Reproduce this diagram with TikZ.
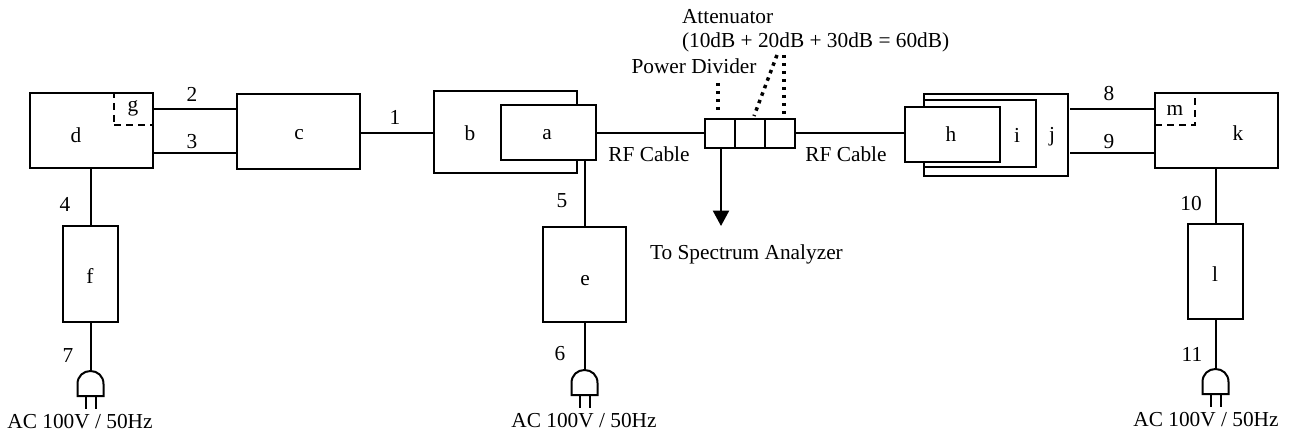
\documentclass[tikz,border=0pt]{standalone}
\usepackage{fontspec}
\setmainfont{Liberation Serif}
\usetikzlibrary{arrows.meta}

\tikzset{
  every node/.style={font=\fontsize{16}{18}\selectfont, inner sep=0pt, outer sep=0pt},
  wh/.style 2 args={minimum width=#1*0.75pt, minimum height=#2*0.75pt},
  unit/.style={draw, line width=1.5pt},
  dashbox/.style={draw, line width=1.5pt, dash pattern=on 5.5pt off 3.5pt},
  wire/.style={line width=1.5pt},
  pointer/.style={line width=2.6pt, dash pattern=on 2.6pt off 3.4pt},
  plug/.pic={
    \coordinate (-top) at (0,0);
    \draw[line width=1.5pt] (-13,25) -- (-13,13) .. controls (-13,5) and (-7,0) .. (0,0)
      .. controls (7,0) and (13,5) .. (13,13) -- (13,25) -- cycle;
    \draw[line width=1.5pt] (-5,25) -- (-5,38);
    \draw[line width=1.5pt] (5,25) -- (5,38);
  }
}

\begin{document}
\begin{tikzpicture}[x=0.75pt,y=-0.75pt]
    \useasboundingbox (0,0) rectangle (1294,434);

    % Left chain
    \node[unit, wh={123}{75}] (d) at (91.5,130.5) {};
    \node[dashbox, wh={39}{32}] (g) at (133.5,109) {};
    \node[unit, wh={123}{75}] (c) at (298.5,131.5) {};
    \node[unit, wh={55}{96}] (f) at (90.5,274) {};

    % Source with its holder
    \node[unit, wh={143}{82}] (b) at (505.5,132) {};
    \node[unit, fill=white, wh={95}{55}] (a) at (548.5,132.5) {};
    \node[unit, wh={83}{95}] (e) at (584.5,274.5) {};

    % Divider and attenuators
    \node[unit, wh={30}{29}] (pd) at (720,133.5) {};
    \node[unit, wh={30}{29}] (att1) at (750,133.5) {};
    \node[unit, wh={30}{29}] (att2) at (780,133.5) {};

    % Right chain
    \node[unit, wh={144}{82}] (j) at (996,135) {};
    \node[unit, wh={112}{67}] (i) at (980,133.5) {};
    \node[unit, fill=white, wh={95}{55}] (h) at (952.5,134.5) {};
    \node[unit, wh={123}{75}] (k) at (1216.5,130.5) {};
    \node[dashbox, wh={40}{32}] (m) at (1175,109) {};
    \node[unit, wh={55}{95}] (l) at (1215.5,271.5) {};

    % Plugs
    \pic (pf) at (90.5,371) {plug};
    \pic (pe) at (584.5,370) {plug};
    \pic (pl) at (1215.5,369) {plug};

    % Levels of the double lines
    \coordinate (upper) at (0,109);
    \coordinate (lower) at (0,153);
    \coordinate (cable) at (0,133);
    \coordinate (jout) at (1070,0);
    \coordinate (tip) at (721,226);

    % Connections
    \draw[wire] (d.east |- upper) -- (c.west |- upper);
    \draw[wire] (d.east |- lower) -- (c.west |- lower);
    \draw[wire] (c.east |- cable) -- (b.west |- cable);
    \draw[wire] (f.north) -- (f.north |- d.south);
    \draw[wire] (f.south) -- (pf-top);
    \draw[wire] (a.east |- cable) -- (pd.west |- cable);
    \draw[wire] (e.north) -- (e.north |- a.south);
    \draw[wire] (e.south) -- (pe-top);
    \draw[wire] (att2.east |- cable) -- (h.west |- cable);
    \draw[wire] (jout |- upper) -- (k.west |- upper);
    \draw[wire] (jout |- lower) -- (k.west |- lower);
    \draw[wire] (l.north) -- (l.north |- k.south);
    \draw[wire] (l.south) -- (pl-top);
    \draw[wire, -{Triangle[length=11.5pt, width=12pt]}] (tip |- pd.south) -- (tip);

    % Pointers from the texts
    \coordinate (pdlabel) at (718,83);
    \coordinate (attone) at (777,55);
    \coordinate (atttwo) at (784,55);
    \draw[pointer] (pdlabel) -- (718,110);
    \draw[pointer] (attone) -- (754,116);
    \draw[pointer] (atttwo) -- (784,116);

    % Labels of the boxes
    \node (alabel) at (547,135) {a};
    \node (dlabel) at (76,135) {d};
    \node (elabel) at (585,281) {e};
    \node (glabel) at (133,108) {g};
    \node (clabel) at (299,135) {c};
    \node (flabel) at (90,276) {f};
    \node (blabel) at (470,133) {b};
    \node (hlabel) at (951,134) {h};
    \node (ilabel) at (1017,135) {i};
    \node (jlabel) at (1052,137) {j};
    \node (klabel) at (1238,133) {k};
    \node (llabel) at (1215,274) {l};
    \node (mlabel) at (1175,110) {m};

    % Numbers of the cables
    \node (n1) at (395,117) {1};
    \node (n2) at (192,94) {2};
    \node (n3) at (192,142) {3};
    \node (n4) at (65,204) {4};
    \node (n5) at (562,201) {5};
    \node (n6) at (560,354) {6};
    \node (n7) at (68,356) {7};
    \node (n8) at (1109,94) {8};
    \node (n9) at (1109,142) {9};
    \node (n10) at (1191,204) {10};
    \node (n11) at (1192,354) {11};

    % Texts
    \node (rfleft) at (649,154) {RF Cable};
    \node (rfright) at (846,154) {RF Cable};
    \node (pdtext) at (694,66) {Power Divider};
    \node[anchor=west, align=left] (atttext) at (682,31) {Attenuator\\(10dB + 20dB + 30dB = 60dB)};
    \node[anchor=west] (satext) at (650,254) {To Spectrum Analyzer};
    \node (acf) at (80,422) {AC 100V / 50Hz};
    \node (ace) at (584,421) {AC 100V / 50Hz};
    \node (acl) at (1206,420) {AC 100V / 50Hz};
\end{tikzpicture}
\end{document}
